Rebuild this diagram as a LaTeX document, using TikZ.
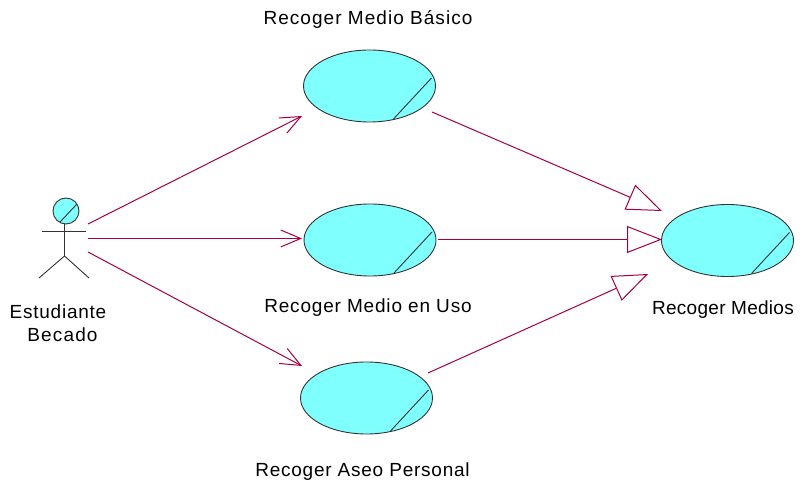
\documentclass[tikz,border=0pt]{standalone}
\usepackage{fontspec}
\setmainfont{Liberation Sans}
\usetikzlibrary{arrows.meta,calc,shapes.geometric}
\definecolor{ucfill}{RGB}{128,255,255}
\definecolor{link}{RGB}{165,0,70}
\tikzset{
  usecase/.style={draw=black!80, fill=ucfill, ellipse, line width=0.9pt,
    minimum width=132pt, minimum height=72pt, inner sep=0pt},
  lbl/.style={anchor=base, inner sep=0pt, font=\fontsize{19}{22}\selectfont},
  assoc/.style={draw=link, line width=1pt, -{Straight Barb[length=20pt, width=17pt, line width=1pt]}},
  general/.style={draw=link, line width=1pt, -{Triangle[open, length=35pt, width=27pt, line width=1pt, fill=white]}},
  stick/.style={draw=black!80, line width=0.9pt}
}
% a use case: ellipse node with a diagonal stroke at its lower right
\newcommand{\ucnode}[3]{%
  \node[usecase] (#1) at (#2,#3) {};
  \draw[stick] ($(#1.center)+(62,-8)$) -- ($(#1.center)+(24,33)$);
}
\newcommand{\spaced}[2]{{\addfontfeature{LetterSpace=#1}#2}}
\begin{document}
\begin{tikzpicture}[x=1pt, y=-1pt]
\useasboundingbox (0,0) rectangle (804,486);

\ucnode{basico}{369.5}{86}
\ucnode{enuso}{370}{240}
\ucnode{aseo}{366.5}{398}
\ucnode{medios}{727.5}{240.5}

% actor
\node[stick, fill=ucfill, circle, minimum size=26pt, inner sep=0pt] (head) at (66,211) {};
\draw[stick] (77,204) -- (60,222);
\draw[stick] (42,231.5) -- (86,231.5);
\draw[stick] (64.5,224) coordinate (neck) -- (64.5,256) coordinate (hip);
\draw[stick] (39,278) -- (hip) -- (89,278);

% labels
\node[lbl] (lbasico) at (368,25) {\spaced{5.5}{Recoger Medio Básico}};
\node[lbl] (lenuso) at (368,313) {\spaced{4.3}{Recoger Medio en Uso}};
\node[lbl] (laseo) at (362.5,477) {\spaced{4}{Recoger Aseo Personal}};
\node[lbl] (lmedios) at (723,315) {\spaced{1.5}{Recoger Medios}};
\node[lbl] (lact1) at (58,319) {\spaced{4}{Estudiante}};
\node[lbl] (lact2) at (62.5,342) {\spaced{6}{Becado}};

% associations from the actor
\coordinate (a1) at (88,224);
\coordinate (a2) at (88,238.5);
\coordinate (a3) at (88,252);
\coordinate (t1) at (302,116);
\coordinate (t2) at (302,238.5);
\coordinate (t3) at (302,366);
\draw[assoc] (a1) -- (t1);
\draw[assoc] (a2) -- (t2);
\draw[assoc] (a3) -- (t3);

% generalisations to the parent use case
\coordinate (s1) at (432,112);
\coordinate (s2) at (438,239.5);
\coordinate (s3) at (428,373);
\coordinate (g1) at (662,211);
\coordinate (g2) at (662,239.5);
\coordinate (g3) at (648,274);
\draw[general] (s1) -- (g1);
\draw[general] (s2) -- (g2);
\draw[general] (s3) -- (g3);
\end{tikzpicture}
\end{document}
